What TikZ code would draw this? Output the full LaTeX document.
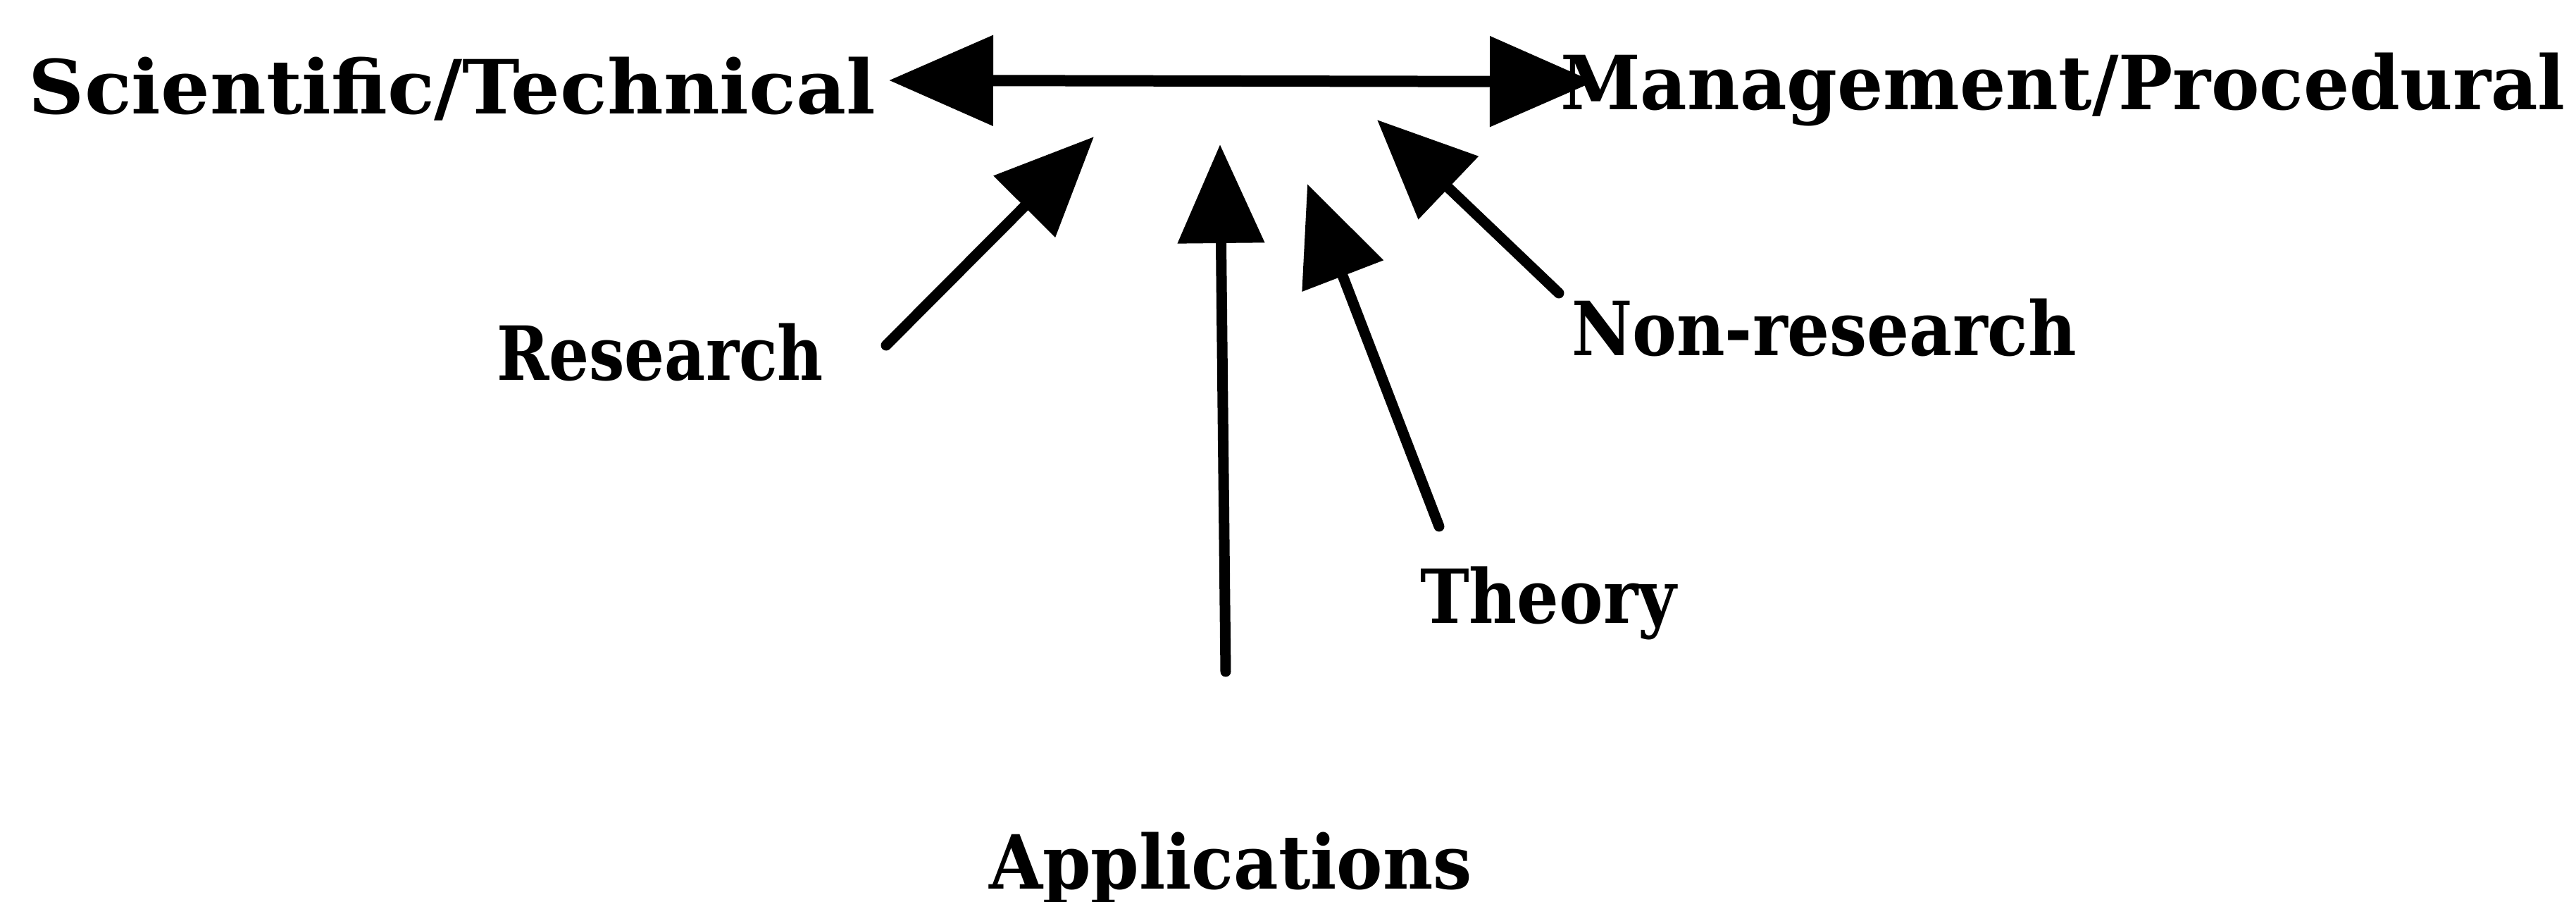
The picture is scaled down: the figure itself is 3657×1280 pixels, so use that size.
\documentclass[tikz,border=0pt]{standalone}
\usepackage{graphicx}
\usepackage{fontspec}
\setmainfont{DejaVu Serif}
\usetikzlibrary{arrows.meta}
\begin{document}
\begin{tikzpicture}[x=0.1pt,y=-0.1pt,
  lbl/.style={inner sep=0pt, outer sep=0pt, anchor=base west, font=\fontsize{10.6pt}{12pt}\selectfont\bfseries},
  shaft/.style={line width=1.5pt, line cap=round, -{Triangle[length=14pt,width=12pt]}},
  mainline/.style={line width=1.6pt, {Triangle[length=14.8pt,width=12.5pt]}-{Triangle[length=14.8pt,width=12.5pt]}}]
\fill[white] (0,0) rectangle (3657,1280);
\useasboundingbox (0,0) rectangle (3657,1280);
% labels
\node[lbl] (sci) at (41,162) {\resizebox{120.2pt}{\height}{Scientific/Technical}};
\node[lbl] (mgmt) at (2215,156) {\resizebox{142.7pt}{\height}{Management/Procedural}};
\node[lbl] (res) at (705,540) {\resizebox{46.4pt}{\height}{Research}};
\node[lbl] (nonres) at (2231,505) {\resizebox{71.7pt}{\height}{Non-research}};
\node[lbl] (theory) at (2016,885) {\resizebox{36.4pt}{\height}{Theory}};
\node[lbl] (appl) at (1404,1262) {\resizebox{68.6pt}{\height}{Applications}};
% arrow end points
\coordinate (mainL) at (1262,114);
\coordinate (mainR) at (2263,116);
\coordinate (resTip) at (1553,194);
\coordinate (resTail) at (1258,490);
\coordinate (appTip) at (1732,205);
\coordinate (appTail) at (1740,953);
\coordinate (thTip) at (1856,261);
\coordinate (thTail) at (2043,747);
\coordinate (nrTip) at (1955,170);
\coordinate (nrTail) at (2213,416);
% connectors
\draw[mainline] (mainL) -- (mainR);
\draw[shaft] (resTail) -- (resTip);
\draw[shaft] (appTail) -- (appTip);
\draw[shaft] (thTail) -- (thTip);
\draw[shaft] (nrTail) -- (nrTip);
\end{tikzpicture}
\end{document}
